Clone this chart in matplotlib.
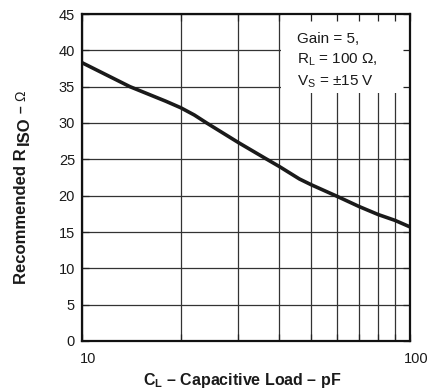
import matplotlib
matplotlib.use('Agg')
import matplotlib.pyplot as plt
import matplotlib.transforms as mtransforms
from matplotlib.patches import Rectangle
from matplotlib.ticker import FixedLocator, FixedFormatter, NullFormatter

plt.rcParams['font.family'] = ['Liberation Sans', 'DejaVu Sans']
plt.rcParams['mathtext.fontset'] = 'custom'
plt.rcParams['mathtext.rm'] = 'Liberation Sans'
plt.rcParams['mathtext.it'] = 'Liberation Sans:italic'
plt.rcParams['mathtext.bf'] = 'Liberation Sans:bold'

# ---- data ----
cap_load_pf = [10, 14, 18, 20, 22, 24, 30, 36, 40, 46, 50, 60, 70, 80, 90, 100]
r_iso_ohm = [38.3, 35.0, 33.0, 32.1, 31.1, 30.0, 27.3, 25.2, 24.0, 22.3, 21.5,
             19.9, 18.5, 17.4, 16.6, 15.7]
x_major = [10, 100]
x_minor = [20, 30, 40, 50, 60, 70, 80, 90]
x_tick_labels = ['10', '100']
y_ticks = [0, 5, 10, 15, 20, 25, 30, 35, 40, 45]
y_tick_labels = ['0', '5', '10', '15', '20', '25', '30', '35', '40', '45']
note_lines = ['Gain = 5,', r'R$_\mathregular{L}$ = 100 Ω,', r'V$_\mathregular{S}$ = ±15 V']
x_label = r'C$_\mathbf{L}$ – Capacitive Load – pF'

W, H = 430, 390
fig = plt.figure(figsize=(W / 100, H / 100), dpi=100)
ax = fig.add_axes([82 / W, (H - 341) / H, 328 / W, 327 / H])

ax.set_xscale('log')
ax.set_xlim(10, 100)
ax.set_ylim(0, 45)

grid_kw = dict(color='#333333', lw=0.9, zorder=1)
for xv in x_major + x_minor:
    ax.axvline(xv, **grid_kw)
for yv in y_ticks:
    ax.axhline(yv, **grid_kw)

ax.add_patch(Rectangle((0.607, 0.758), 0.393, 0.242, transform=ax.transAxes,
                       facecolor='white', edgecolor='none', zorder=2))

ax.plot(cap_load_pf, r_iso_ohm, color='#1a1a1a', lw=2.6, zorder=3,
        solid_capstyle='butt', solid_joinstyle='round')

ax.set_axisbelow(False)
ax.xaxis.set_major_locator(FixedLocator(x_major))
ax.xaxis.set_major_formatter(FixedFormatter(x_tick_labels))
ax.xaxis.set_minor_locator(FixedLocator(x_minor))
ax.xaxis.set_minor_formatter(NullFormatter())
ax.yaxis.set_major_locator(FixedLocator(y_ticks))
ax.yaxis.set_major_formatter(FixedFormatter(y_tick_labels))

ax.tick_params(which='both', direction='in', length=5, width=0.9, color='#222222',
               top=True, right=True, labelsize=10.5, labelcolor='#1a1a1a')
ax.tick_params(axis='x', pad=8)
ax.tick_params(axis='y', pad=5)

offset = mtransforms.ScaledTranslation(6 / 100, 0, fig.dpi_scale_trans)
for lab in ax.get_xticklabels():
    lab.set_transform(lab.get_transform() + offset)

for sp in ax.spines.values():
    sp.set_linewidth(1.6)
    sp.set_color('#111111')
    sp.set_zorder(4)

note_y = [0.910, 0.847, 0.780]
for line, yy in zip(note_lines, note_y):
    ax.text(0.655, yy, line, transform=ax.transAxes, fontsize=11,
            ha='left', va='baseline', color='#1a1a1a', zorder=5)

# x label
fig.text(242 / W, (H - 385) / H, x_label, ha='center', va='baseline',
         fontsize=11.5, fontweight='bold', color='#1a1a1a')

# y label built from pieces (subscript at full size, as in the reference)
fig.canvas.draw()
r = fig.canvas.get_renderer()
x_base = 26 / W
y0 = (H - 284) / H
lab_kw = dict(rotation=90, rotation_mode='anchor', ha='left', va='baseline',
              color='#1a1a1a')
t1 = fig.text(x_base, y0, 'Recommended R', fontweight='bold', fontsize=12, **lab_kw)
y1 = t1.get_window_extent(r).y1 / H
t2 = fig.text(x_base + 3 / W, y1 + 3 / H, 'ISO', fontweight='bold', fontsize=12, **lab_kw)
y2 = t2.get_window_extent(r).y1 / H
t3 = fig.text(x_base - 1 / W, y2 + 4 / H, '–', fontweight='bold', fontsize=10, **lab_kw)
y3 = t3.get_window_extent(r).y1 / H
t4 = fig.text(x_base - 1 / W, y3 + 4 / H, 'Ω', fontweight='normal', fontsize=10, **lab_kw)

fig.savefig('out.png', dpi=100)
